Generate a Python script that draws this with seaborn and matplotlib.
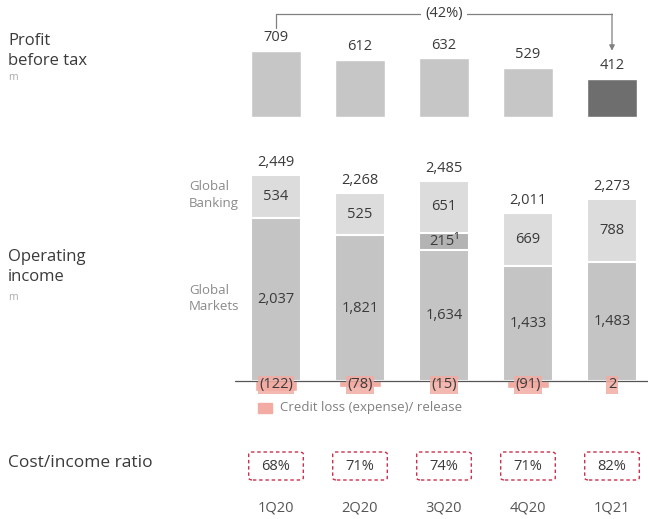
import numpy as np
import pandas as pd
import matplotlib
matplotlib.use('Agg')
import matplotlib.pyplot as plt
from matplotlib.patches import FancyBboxPatch, Rectangle
import seaborn as sns

# ── data ─────────────────────────────────────────
quarters = ['1Q20', '2Q20', '3Q20', '4Q20', '1Q21']
pbt = [709, 612, 632, 529, 412]
global_banking = [534, 525, 651, 669, 788]
one_off = [0, 0, 215, 0, 0]
global_markets = [2037, 1821, 1634, 1433, 1483]
credit_loss = [-122, -78, -15, -91, 2]
op_income = [2449, 2268, 2485, 2011, 2273]
cost_income = [68, 71, 74, 71, 82]
pbt_change = '(42%)'

sns.set_theme(style='white')
plt.rcParams['font.family'] = ['Open Sans', 'DejaVu Sans']

W, H = 648, 519
fig = plt.figure(figsize=(W / 100, H / 100), dpi=100)

def px_axes(left, top, right, bottom):
    ax = fig.add_axes([left / W, 1 - bottom / H, (right - left) / W, (bottom - top) / H])
    return ax

def tidy(ax):
    ax.set_xlim(-1.5, (648 - 276) / 84)
    ax.axis('off')

def ftext(x, y, s, **kw):
    fig.text(x / W, 1 - y / H, s, **kw)

txt = '#3a3a3a'
grey_lbl = '#8a8a8a'
pink = '#f2aca3'
fs = 10.5

# ── Profit before tax ────────────────────────────
ax1 = px_axes(150, 0, 648, 117)
df_pbt = pd.DataFrame({'q': quarters, 'v': pbt})
sns.barplot(data=df_pbt, x='q', y='v', hue='q', legend=False, ax=ax1,
            palette=['#c6c6c6'] * 4 + ['#6e6e6e'], saturation=1, width=0.6)
ax1.set_ylim(0, 117 * 10.74)
tidy(ax1)
for i, v in enumerate(pbt):
    ax1.text(i, v + 60, f'{v:,}', ha='center', va='bottom', fontsize=fs, color=txt)
# bracket showing change
yb = (117 - 14) * 10.74
ax1.plot([0, 0, 4], [pbt[0] + 250, yb, yb], color='#808080', lw=0.9, clip_on=False)
ax1.annotate('', xy=(4, pbt[-1] + 300), xytext=(4, yb),
             arrowprops=dict(arrowstyle='-|>', color='#808080', lw=0.9,
                             mutation_scale=8, shrinkA=0, shrinkB=0))
ax1.text(2, yb, pbt_change, ha='center', va='center', fontsize=fs, color=txt,
         bbox=dict(fc='white', ec='none', pad=3))

ftext(8, 51, 'Profit\nbefore tax', fontsize=12, color=txt, va='center', linespacing=1.35)
ftext(8, 77, 'm', fontsize=7.5, color='#aaaaaa', va='center')

# ── Operating income ─────────────────────────────
ax2 = px_axes(150, 140, 648, 420)
upp = 12.48
gm = np.array(global_markets)
mid = gm + np.array(one_off)
tot = mid + np.array(global_banking)
for vals, col in [(tot, '#dcdcdc'), (mid, '#b3b3b3'), (gm, '#c4c4c4')]:
    sns.barplot(x=quarters, y=vals, color=col, saturation=1, width=0.6, ax=ax2,
                edgecolor='white', linewidth=1.5)
sns.barplot(x=quarters, y=credit_loss, color=pink, saturation=1, width=0.5, ax=ax2)
ax2.set_ylim(-(420 - 381) * upp, (381 - 140) * upp)
tidy(ax2)
ax2.axhline(0, xmin=(235 - 150) / 498, xmax=1, color='#555555', lw=0.9, zorder=3)

for i in range(len(quarters)):
    ax2.text(i, tot[i] + 60, f'{op_income[i]:,}', ha='center', va='bottom',
             fontsize=fs, color=txt)
    ax2.text(i, (mid[i] + tot[i]) / 2, f'{global_banking[i]:,}', ha='center',
             va='center', fontsize=fs, color=txt)
    ax2.text(i, gm[i] / 2, f'{global_markets[i]:,}', ha='center', va='center',
             fontsize=fs, color=txt)
    if one_off[i]:
        ax2.text(i, (gm[i] + mid[i]) / 2, f'{one_off[i]}\u00b9', ha='center',
                 va='center', fontsize=fs, color=txt)
    cl = credit_loss[i]
    lbl = f'({-cl})' if cl < 0 else f'{cl}'
    ax2.text(i, -45, lbl, ha='center', va='center', fontsize=fs, color=txt, zorder=4,
             bbox=dict(fc=pink, ec='none', pad=1.0, alpha=0.85))

ftext(189, 195, 'Global\nBanking', fontsize=9.5, color=grey_lbl, va='center', linespacing=1.3)
ftext(189, 299, 'Global\nMarkets', fontsize=9.5, color=grey_lbl, va='center', linespacing=1.3)
ftext(8, 267, 'Operating\nincome', fontsize=12, color=txt, va='center', linespacing=1.35)
ftext(8, 298, 'm', fontsize=7.5, color='#aaaaaa', va='center')

# legend
fig.patches.append(Rectangle((258 / W, 1 - 413 / H), 14 / W, 10 / H, color=pink,
                             transform=fig.transFigure, figure=fig))
ftext(280, 408, 'Credit loss (expense)/ release', fontsize=9.5, color='#808080', va='center')

# ── Cost / income ratio ──────────────────────────
ax3 = px_axes(150, 440, 648, 519)
for i, r in enumerate(cost_income):
    box = FancyBboxPatch((i - 0.325, 519 - 480), 0.65, 28,
                         boxstyle='round,pad=0,rounding_size=0.05',
                         fc='none', ec='#c9314d', lw=1.0, ls=(0, (2.5, 2)),
                         mutation_aspect=28 / 0.65 * 0.65 / 55 * 84)
    ax3.add_patch(box)
    ax3.text(i, 519 - 466, f'{r}%', ha='center', va='center', fontsize=fs, color=txt)
    ax3.text(i, 519 - 508, quarters[i], ha='center', va='center', fontsize=fs,
             color='#555555')
ax3.set_ylim(0, 79)
tidy(ax3)
ftext(8, 463, 'Cost/income ratio', fontsize=12.5, color=txt, va='center')

fig.savefig('out.png', dpi=100)
